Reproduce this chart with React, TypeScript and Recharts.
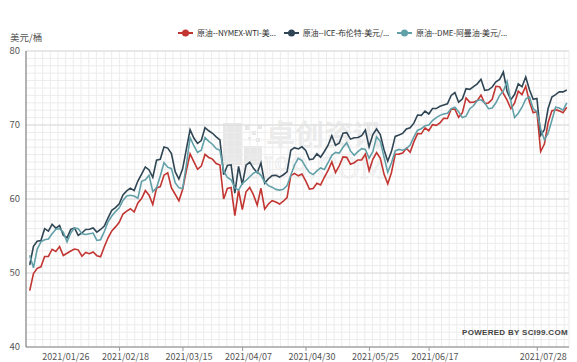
import React from "react";
import { LineChart, Line, XAxis, YAxis, CartesianGrid } from "recharts";

if (typeof document !== "undefined") document.body.style.margin = "0";

const FONT = "'Noto Sans CJK SC', 'Open Sans', sans-serif";

// trading days shown on the category axis (union of the three exchanges)
const monthDays: Array<[string, number[]]> = [
  ["01", [4, 5, 6, 7, 8, 11, 12, 13, 14, 15, 18, 19, 20, 21, 22, 25, 26, 27, 28, 29]],
  ["02", [1, 2, 3, 4, 5, 8, 9, 10, 11, 12, 16, 17, 18, 19, 22, 23, 24, 25, 26]],
  ["03", [1, 2, 3, 4, 5, 8, 9, 10, 11, 12, 15, 16, 17, 18, 19, 22, 23, 24, 25, 26, 29, 30, 31]],
  ["04", [1, 5, 6, 7, 8, 9, 12, 13, 14, 15, 16, 19, 20, 21, 22, 23, 26, 27, 28, 29, 30]],
  ["05", [3, 4, 5, 6, 7, 10, 11, 12, 13, 14, 17, 18, 19, 20, 21, 24, 25, 26, 27, 28]],
  ["06", [1, 2, 3, 4, 7, 8, 9, 10, 11, 14, 15, 16, 17, 18, 21, 22, 23, 24, 25, 28, 29, 30]],
  ["07", [1, 2, 5, 6, 7, 8, 9, 12, 13, 14, 15, 16, 19, 20, 21, 22, 23, 26, 27, 28]],
];
const dates = monthDays.flatMap(([m, days]) =>
  days.map((d) => `2021/${m}/${String(d).padStart(2, "0")}`)
);

const tickDates = [
  "2021/01/26", "2021/02/18", "2021/03/15", "2021/04/07",
  "2021/04/30", "2021/05/25", "2021/06/17", "2021/07/28",
];
const yTicks = [40, 50, 60, 70, 80];

// 美元/桶
const wti = [
  47.62, 49.93, 50.63, 50.83, 52.24, 52.25, 53.21, 52.91, 53.57, 52.36, null, 52.98, 53.24, 53.13, 52.27, 52.77, 52.61, 52.85, 52.34, 52.2,
  53.55, 54.76, 55.69, 56.23, 56.85, 57.97, 58.36, 58.68, 58.24, 59.47, 60.05, 61.14, 60.52, 59.24, 61.49, 61.67, 63.22, 63.53, 61.5,
  60.64, 59.75, 61.28, 63.83, 66.09, 65.05, 64.01, 64.44, 66.02, 65.61, 65.39, 64.8, 64.6, 60.0, 61.42, 61.55, 57.76, 61.18, 58.56, 60.97, 61.56, 60.55, 59.16,
  61.45, 58.65, 59.33, 59.77, 59.6, 59.32, 59.7, 60.18, 63.15, 63.46, 63.13, 63.38, 62.44, 61.35, 61.43, 62.14, 61.91, 62.94, 63.86, 65.01, 63.58,
  64.49, 65.69, 65.63, 64.71, 64.9, 65.28, 65.28, 66.08, 63.82, 65.37, 66.27, 65.49, 63.36, 62.05, 63.58, 66.05, 66.07, 66.21, 66.85, 66.32,
  67.72, 68.83, 68.81, 69.62, 69.23, 70.05, 69.96, 70.29, 70.91, 70.88, 72.12, 72.15, 71.04, 71.64, 73.66, 73.06, 73.08, 73.3, 74.05, 72.91, 72.98, 73.47,
  75.23, 75.16, null, 73.37, 72.2, 72.94, 74.56, 74.1, 75.25, 73.13, 71.65, 71.81, 66.42, 67.42, 70.3, 71.91, 72.07, 71.91, 71.65, 72.39,
];
const brent = [
  51.09, 53.6, 54.3, 54.38, 55.99, 55.66, 56.58, 56.06, 56.42, 55.1, 54.75, 55.9, 56.08, 55.1, 55.41, 55.88, 55.91, 56.08, 55.53, 55.88,
  56.35, 57.46, 58.46, 58.84, 59.34, 60.56, 61.09, 61.47, 61.14, 62.43, 63.35, 64.34, 63.93, 62.91, 65.24, 65.37, 67.04, 66.88, 66.13,
  63.69, 62.7, 64.07, 66.74, 69.36, 68.24, 67.52, 67.9, 69.63, 69.22, 68.88, 68.39, 68.0, 63.28, 64.53, 64.62, 60.79, 64.41, 61.95, 64.57, 64.98, 64.14, 63.54,
  64.86, 62.15, 62.74, 63.16, 63.2, 62.95, 63.28, 63.67, 66.58, 66.94, 66.77, 67.05, 66.57, 65.32, 65.4, 66.11, 65.65, 66.42, 67.27, 68.56, 67.25,
  67.56, 68.88, 68.96, 68.09, 68.28, 68.32, 68.55, 69.32, 67.05, 68.71, 69.46, 68.71, 66.66, 65.11, 66.44, 68.46, 68.65, 68.87, 69.46, 69.63,
  70.25, 71.35, 71.31, 71.89, 71.49, 72.22, 72.22, 72.52, 72.69, 72.86, 73.99, 74.39, 73.08, 73.51, 74.9, 74.81, 75.19, 75.56, 76.18, 74.68, 74.76, 75.13,
  75.84, 76.17, 77.16, 74.53, 73.43, 74.12, 75.55, 75.16, 76.49, 74.76, 73.47, 73.59, 68.62, 69.35, 72.23, 73.79, 74.1, 74.5, 74.48, 74.74,
];
const oman = [
  52.4, 50.7, 53.2, 54.2, 54.5, 54.6, 55.3, 55.9, 56.0, 55.5, 54.2, 55.4, 56.1, 56.0, 55.3, 55.2, 55.3, 55.4, 54.4, 54.5,
  55.6, 56.9, 57.7, 58.3, 58.8, 59.8, 60.4, 60.5, 60.4, 60.1, 62.4, 62.6, 63.2, 61.0, 61.5, 63.1, 64.9, 64.3, 64.1,
  62.2, 61.5, 61.4, 64.6, 68.3, 67.2, 66.3, 66.6, 68.3, 67.8, 67.4, 66.8, 66.6, 63.8, 62.9, 62.6, 61.5, 61.2, 62.1, 62.5, 63.0, 63.5, 63.7,
  63.2, 62.3, 61.8, 61.6, 61.3, 61.2, 61.3, 61.8, 63.2, 64.6, 65.5, 65.2, 64.3, 63.6, 63.3, 63.8, 64.2, 64.0, 64.9, 65.9, 66.3,
  66.2, 67.0, 67.6, 66.5, 65.9, 66.4, 66.8, 66.7, 65.5, 66.4, 68.4, 67.8, 65.7, 63.6, 64.9, 66.5, 66.7, 66.6, 66.8, 67.3,
  68.4, 69.3, 69.5, 69.9, 70.0, 70.6, 71.0, 71.3, 71.5, 71.6, 72.2, 72.4, 71.8, 71.0, 71.2, 72.2, 72.6, 73.3, 73.4, 73.0, 72.2, 72.3,
  73.0, 74.0, 74.6, 75.9, 73.2, 71.0, 71.6, 72.4, 73.5, 73.8, 72.2, 71.8, 69.5, 68.0, 68.9, 70.6, 72.4, 72.3, 72.0, 73.0,
];

const series = [
  { key: "wti", name: "原油--NYMEX-WTI-美...", color: "#c23531" },
  { key: "brent", name: "原油--ICE-布伦特-美元/...", color: "#2f4554" },
  { key: "oman", name: "原油--DME-阿曼油-美元/...", color: "#61a0a8" },
];

const data = dates.map((date, i) => ({
  i,
  date,
  wti: wti[i],
  brent: brent[i],
  oman: oman[i],
}));

const W = 577;
const H = 362;
const margin = { top: 51, right: 8, bottom: 0, left: 0 };
const Y_AXIS_W = 26;
const X_AXIS_H = 15;
const plotLeft = margin.left + Y_AXIS_W;
const plotRight = W - margin.right;
const plotTop = margin.top;
const plotBottom = H - X_AXIS_H;

function minorRows() {
  const out: number[] = [];
  for (let k = 0; k <= 40; k++) out.push(plotTop + (k * (plotBottom - plotTop)) / 40);
  return out;
}

function minorCols() {
  const out: number[] = [];
  for (let x = plotLeft + 9; x <= plotRight + 0.5; x += 7.67) out.push(x);
  out.push(plotRight);
  return out;
}

function DateTick({ x, payload, index }: any) {
  return (
    <g>
      {index > 0 && (
        <line x1={x - 29.5} x2={x - 29.5} y1={plotBottom} y2={plotBottom + 4} stroke="#999" />
      )}
      <text
        x={x}
        y={plotBottom + 13}
        textAnchor="end"
        fontSize={9}
        fill="#555"
        fontFamily={FONT}
      >
        {dates[payload.value]}
      </text>
    </g>
  );
}

function Watermark() {
  const blocks = [
    [223, 123, 19, 42],
    [244, 146, 18, 19],
    [245, 125, 5, 5],
    [252, 131, 4, 4],
    [258, 125, 4, 4],
    [256, 138, 4, 4],
    [248, 137, 3, 3],
  ];
  return (
    <svg
      width={W}
      height={H}
      style={{ position: "absolute", left: 0, top: 0, opacity: 0.35 }}
    >
      {blocks.map(([x, y, w, h], k) => (
        <rect key={k} x={x} y={y} width={w} height={h} fill="#bdbdbd" />
      ))}
      <text x={266} y={146} fontSize={29} fill="#c8c8c8" fontFamily={FONT} fontWeight={700}>
        卓创资讯
      </text>
      <text
        x={224}
        y={178}
        fontSize={27}
        fill="none"
        stroke="#c8c8c8"
        strokeWidth={1}
        fontFamily="'DejaVu Serif', serif"
      >
        SCI99.COM
      </text>
    </svg>
  );
}

function LegendBar() {
  return (
    <div
      style={{
        position: "absolute",
        top: 27,
        left: 178,
        display: "flex",
        alignItems: "center",
        fontFamily: FONT,
        fontSize: 8,
        letterSpacing: -0.15,
        color: "#333",
        whiteSpace: "nowrap",
      }}
    >
      {series.map((s) => (
        <div key={s.key} style={{ display: "flex", alignItems: "center", marginRight: 8 }}>
          <svg width={15} height={10}>
            <line x1={0} y1={5} x2={15} y2={5} stroke={s.color} strokeWidth={2} />
            <circle cx={7.5} cy={5} r={3.5} fill={s.color} />
          </svg>
          <span style={{ marginLeft: 4 }}>{s.name}</span>
        </div>
      ))}
    </div>
  );
}

export default function App() {
  return (
    <div style={{ position: "relative", width: W, height: H, background: "#fff" }}>
      <Watermark />
      <div style={{ position: "absolute", left: 0, top: 0 }}>
        <LineChart width={W} height={H} data={data} margin={margin}>
          <CartesianGrid
            stroke="#ececec"
            horizontalPoints={minorRows()}
            verticalPoints={minorCols()}
          />
          <CartesianGrid stroke="#dadada" vertical={false} />
          <XAxis
            type="number"
            dataKey="i"
            domain={[-1, 144.6]}
            ticks={tickDates.map((d) => dates.indexOf(d))}
            interval={0}
            allowDataOverflow
            height={X_AXIS_H}
            tick={<DateTick />}
            tickLine={false}
            axisLine={{ stroke: "#aaa", strokeWidth: 1.5 }}
          />
          <YAxis
            domain={[40, 80]}
            ticks={yTicks}
            width={Y_AXIS_W}
            tickLine={false}
            tickSize={0}
            tickMargin={6}
            axisLine={{ stroke: "#666" }}
            tick={{ fontSize: 9.5, fill: "#555", fontFamily: FONT }}
          />
          {series.map((s) => (
            <Line
              key={s.key}
              type="linear"
              dataKey={s.key}
              name={s.name}
              stroke={s.color}
              strokeWidth={1.6}
              dot={false}
              connectNulls
              isAnimationActive={false}
            />
          ))}
        </LineChart>
      </div>
      <LegendBar />
      <div
        style={{
          position: "absolute",
          left: 10,
          top: 30,
          fontFamily: FONT,
          fontSize: 9.5,
          color: "#555",
        }}
      >
        美元/桶
      </div>
      <div
        style={{
          position: "absolute",
          left: 462,
          top: 328,
          fontFamily: "'Liberation Sans', sans-serif",
          fontWeight: 700,
          fontSize: 8,
          letterSpacing: 0.3,
          color: "#444",
        }}
      >
        POWERED BY SCI99.COM
      </div>
    </div>
  );
}
